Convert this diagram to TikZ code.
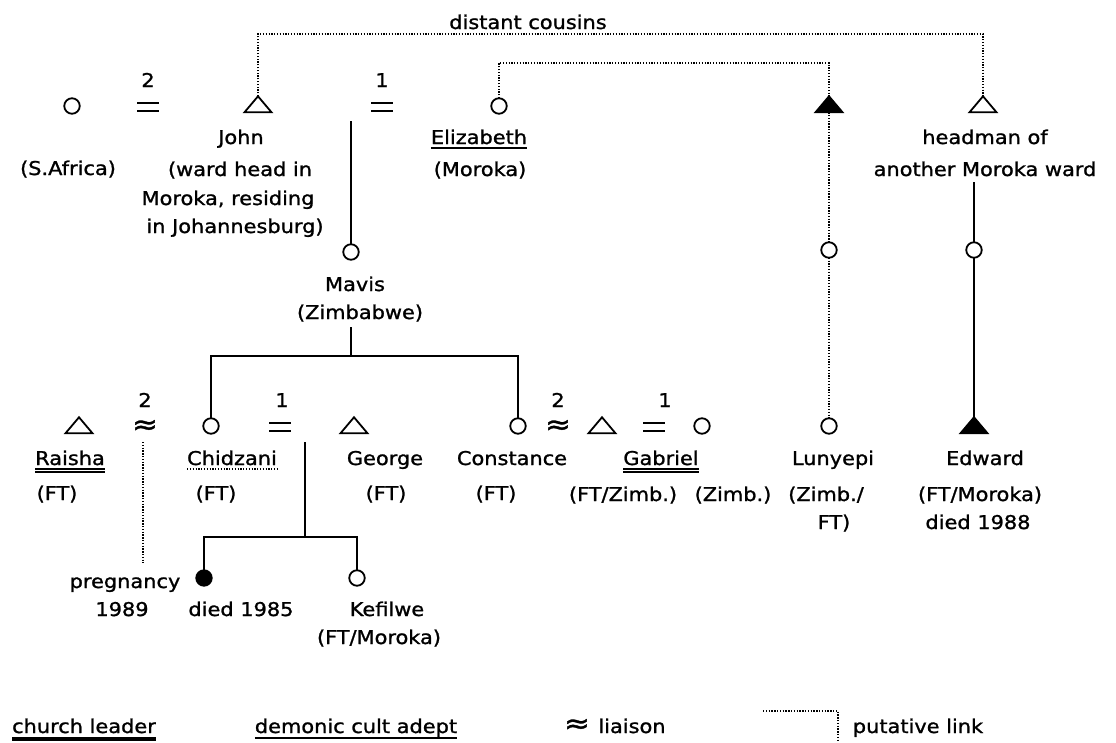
\documentclass[tikz,border=0pt]{standalone}
\usepackage{fontspec}
\setmainfont{DejaVu Sans}[FakeStretch=1.1, FakeBold=1.2]
\usetikzlibrary{shapes.geometric}
\tikzset{
  every node/.style={inner sep=0pt, outer sep=0pt},
  lbl/.style={font=\fontsize{19}{22}\selectfont, anchor=base, text height=14pt, text depth=4pt},
  sym/.style={font=\fontsize{28}{28}\selectfont, anchor=center},
  fem/.style={circle, draw, line width=1.8pt, minimum size=15.5pt},
  femd/.style={fem, fill=black},
  mal/.style={isosceles triangle, shape border rotate=90, isosceles triangle stretches, draw, line width=1.8pt, minimum width=27pt, minimum height=16pt},
  mald/.style={mal, fill=black},
  eqbox/.style={rectangle, minimum width=22pt, minimum height=8.5pt},
  sline/.style={line width=1.8pt},
  dline/.style={line width=1.8pt, dash pattern=on 1.3pt off 1.5pt},
  uline/.style={line width=1.5pt},
}
\newcommand{\eqsign}[1]{\draw[line width=2.2pt] (#1.north west) -- (#1.north east) (#1.south west) -- (#1.south east);}
\begin{document}
\begin{tikzpicture}[x=1pt,y=-1pt]
\fill[white] (0,0) rectangle (1116,742);
\useasboundingbox (0,0) rectangle (1116,742);

% ---------- top generation ----------
\node[fem] (safr) at (72,106) {};
\node[eqbox] (m2) at (148,107) {};
\node[lbl] (n2a) at (148,87) {2};
\node[mal] (john) at (258,106) {};
\node[eqbox] (m1) at (382,107) {};
\node[lbl] (n1a) at (382,87) {1};
\node[fem] (eliz) at (499,106) {};
\node[mald] (lunf) at (829,106) {};
\node[mal] (headman) at (983,106) {};
\eqsign{m2}
\eqsign{m1}

\node[lbl] (tcous) at (528,29) {distant cousins};
\coordinate (topbar) at (620,34);
\coordinate (ebar) at (660,63);
\draw[dline] (john.north) |- (topbar) -| (headman.north);
\draw[dline] (eliz.north) |- (ebar) -| (lunf.north);

\node[lbl] (tsafr) at (68,175) {(S.Africa)};
\node[lbl] (tjohn1) at (241,144) {John};
\node[lbl] (tjohn2) at (240,176) {(ward head in};
\node[lbl] (tjohn3) at (228,205) {Moroka, residing};
\node[lbl] (tjohn4) at (235,233) {in Johannesburg)};
\node[lbl] (teliz) at (479,144) {Elizabeth};
\draw[uline] (teliz.south west) -- (teliz.south east);
\node[lbl] (teliz2) at (480,176) {(Moroka)};
\node[lbl] (thead1) at (985,144) {headman of};
\node[lbl] (thead2) at (985,176) {another Moroka ward};

% ---------- Mavis ----------
\coordinate (mstart) at (351,121);
\node[fem] (mavis) at (351,252) {};
\draw[sline] (mstart) -- (mavis.north);
\node[lbl] (tmavis) at (355,291) {Mavis};
\node[lbl] (tmavis2) at (360,319) {(Zimbabwe)};
\coordinate (mvtop) at (351,327);
\coordinate (mvbar) at (351,356);
\draw[sline] (mvtop) -- (mvbar);

% ---------- middle circles ----------
\node[fem] (lm) at (829,250) {};
\node[fem] (hm) at (974,250) {};
\coordinate (hstart) at (974,182);
\draw[dline] (lunf.south) -- (lm.north);
\draw[sline] (hstart) -- (hm.north);

% ---------- second generation ----------
\node[mal] (raisha) at (79,427) {};
\node[lbl] (n2b) at (145,407) {2};
\node[sym] (lz1) at (145,427) {≈};
\node[fem] (chid) at (211,426) {};
\node[lbl] (n1b) at (282,407) {1};
\node[eqbox] (m3) at (280,427) {};
\eqsign{m3}
\node[mal] (george) at (354,427) {};
\node[fem] (const) at (518,426) {};
\node[lbl] (n2c) at (558,407) {2};
\node[sym] (lz2) at (558,427) {≈};
\node[mal] (gabriel) at (602,427) {};
\node[lbl] (n1c) at (665,407) {1};
\node[eqbox] (m4) at (654,427) {};
\eqsign{m4}
\node[fem] (gwife) at (702,426) {};
\node[fem] (lun) at (829,426) {};
\node[mald] (edward) at (974,427) {};

\draw[sline] (chid.north) |- (mvbar) -| (const.north);
\draw[dline] (lm.south) -- (lun.north);
\draw[sline] (hm.south) -- (edward.north);

\node[lbl] (traisha) at (70,465) {Raisha};
\draw[uline] (traisha.south west) -- (traisha.south east);
\draw[uline] ([yshift=-3pt]traisha.south west) -- ([yshift=-3pt]traisha.south east);
\node[lbl] (traisha2) at (57,500) {(FT)};
\node[lbl] (tchid) at (232,465) {Chidzani};
\draw[dline] (tchid.south west) -- (tchid.south east);
\node[lbl] (tchid2) at (216,500) {(FT)};
\node[lbl] (tgeorge) at (385,465) {George};
\node[lbl] (tgeorge2) at (386,500) {(FT)};
\node[lbl] (tconst) at (512,465) {Constance};
\node[lbl] (tconst2) at (496,500) {(FT)};
\node[lbl] (tgab) at (661,465) {Gabriel};
\draw[uline] (tgab.south west) -- (tgab.south east);
\draw[uline] ([yshift=-3pt]tgab.south west) -- ([yshift=-3pt]tgab.south east);
\node[lbl] (tgab2) at (623,501) {(FT/Zimb.)};
\node[lbl] (tgw) at (733,501) {(Zimb.)};
\node[lbl] (tlun) at (833,465) {Lunyepi};
\node[lbl] (tlun2) at (826,501) {(Zimb./};
\node[lbl] (tlun3) at (834,529) {FT)};
\node[lbl] (tedw) at (985,465) {Edward};
\node[lbl] (tedw2) at (980,501) {(FT/Moroka)};
\node[lbl] (tedw3) at (978,529) {died 1988};

% ---------- third generation ----------
\coordinate (rl1) at (143,442);
\coordinate (rl2) at (143,563);
\draw[dline] (rl1) -- (rl2);
\node[lbl] (tpreg) at (125,588) {pregnancy};
\node[lbl] (tpreg2) at (122,616) {1989};

\coordinate (cgtop) at (305,442);
\coordinate (cgbar) at (305,537);
\draw[sline] (cgtop) -- (cgbar);
\node[femd] (baby) at (204,578) {};
\node[fem] (kef) at (357,578) {};
\draw[sline] (baby.north) |- (cgbar) -| (kef.north);
\node[lbl] (tbaby) at (241,616) {died 1985};
\node[lbl] (tkef) at (387,616) {Kefilwe};
\node[lbl] (tkef2) at (379,644) {(FT/Moroka)};

% ---------- legend ----------
\node[lbl] (lg1) at (84,733) {church leader};
\draw[uline] ([yshift=-1pt]lg1.south west) -- ([yshift=-1pt]lg1.south east);
\draw[uline] ([yshift=-3pt]lg1.south west) -- ([yshift=-3pt]lg1.south east);
\node[lbl] (lg2) at (356,733) {demonic cult adept};
\draw[uline] ([yshift=-1pt]lg2.south west) -- ([yshift=-1pt]lg2.south east);
\node[sym] (lg3s) at (577,726) {≈};
\node[lbl] (lg3) at (632,733) {liaison};
\coordinate (lgd1) at (763,711);
\coordinate (lgd2) at (838,742);
\draw[dline] (lgd1) -| (lgd2);
\node[lbl] (lg4) at (918,733) {putative link};
\end{tikzpicture}
\end{document}
